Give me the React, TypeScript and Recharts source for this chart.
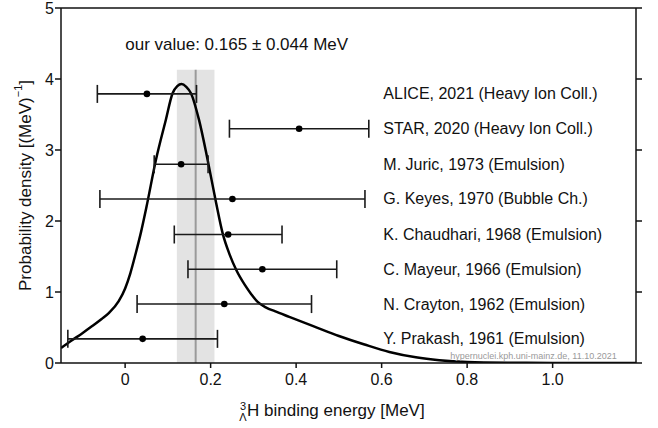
import React from 'react';
import {
  ComposedChart, Line, Scatter, XAxis, YAxis, ErrorBar, ReferenceArea, ReferenceLine,
} from 'recharts';

// Probability density curve (x in MeV, y in 1/MeV)
const curveX = [-0.15, -0.127, -0.1, -0.077, -0.055, -0.037, -0.015, 0.0, 0.012, 0.025, 0.037, 0.05, 0.072, 0.095, 0.111, 0.122, 0.132, 0.143, 0.154, 0.173, 0.193, 0.213, 0.228, 0.245, 0.26, 0.28, 0.295, 0.31, 0.33, 0.35, 0.384, 0.44, 0.5, 0.56, 0.618, 0.68, 0.735, 0.8, 0.9, 1.0, 1.195];
const curveY = [0.21, 0.31, 0.42, 0.52, 0.62, 0.71, 0.87, 1.05, 1.26, 1.55, 1.84, 2.2, 2.86, 3.42, 3.8, 3.9, 3.93, 3.89, 3.8, 3.42, 2.86, 2.25, 1.83, 1.52, 1.31, 1.1, 0.97, 0.86, 0.78, 0.73, 0.65, 0.52, 0.38, 0.26, 0.155, 0.08, 0.04, 0.015, 0.004, 0.001, 0];

// Measurements
const names = [
  'ALICE, 2021 (Heavy Ion Coll.)',
  'STAR, 2020 (Heavy Ion Coll.)',
  'M. Juric, 1973 (Emulsion)',
  'G. Keyes, 1970 (Bubble Ch.)',
  'K. Chaudhari, 1968 (Emulsion)',
  'C. Mayeur, 1966 (Emulsion)',
  'N. Crayton, 1962 (Emulsion)',
  'Y. Prakash, 1961 (Emulsion)',
];
const values = [0.051, 0.407, 0.131, 0.251, 0.241, 0.321, 0.232, 0.041];
const errors = [0.116, 0.163, 0.063, 0.31, 0.126, 0.174, 0.204, 0.175];
const rows = [3.79, 3.3, 2.8, 2.31, 1.81, 1.32, 0.83, 0.34];

const ourValue = 0.165;
const ourError = 0.044;
const bandTop = 4.13;

const xTicks = [0, 0.2, 0.4, 0.6, 0.8, 1.0];
const yTicks = [0, 1, 2, 3, 4, 5];
const xDomain = [-0.15, 1.195];
const yDomain = [0, 5];

const LABEL_X = 0.604;
const ANNOT_X = 0.261;
const ANNOT_Y = 4.48;
const WM_X = 1.15;
const WM_Y = 0.095;

const curveData = curveX.map((x, i) => ({ x, y: curveY[i] }));
const pointData = values.map((x, i) => ({ x, y: rows[i], err: errors[i] }));
const labelData = names.map((name, i) => ({ x: LABEL_X, y: rows[i], name }));
const annotData = [{ x: ANNOT_X, y: ANNOT_Y, name: `our value: ${ourValue} ± ${ourError} MeV` }];
const wmData = [{ x: WM_X, y: WM_Y, name: 'hypernuclei.kph.uni-mainz.de, 11.10.2021' }];

const FONT = '"Liberation Sans", Arial, sans-serif';

const fmtX = (v: number) => (v === 0 ? '0' : v.toFixed(1));

function XLabel(props: any) {
  const vb = props.viewBox || {};
  const x0 = (vb.x ?? 61) + 179;
  const base = (vb.y ?? 363) + 53;
  return (
    <g fontFamily={FONT} fill="#111">
      <text x={x0 + 3} y={base - 6} fontSize={11} textAnchor="middle">3</text>
      <text x={x0 + 3} y={base + 5} fontSize={11} textAnchor="middle">Λ</text>
      <text x={x0 + 7} y={base} fontSize={17}>H binding energy [MeV]</text>
    </g>
  );
}

function YLabel(props: any) {
  const vb = props.viewBox || {};
  const cy = (vb.y ?? 8) + (vb.height ?? 355) / 2;
  const cx = 25;
  return (
    <text x={cx} y={cy} transform={`rotate(-90 ${cx} ${cy})`} textAnchor="middle" dominantBaseline="central" fontFamily={FONT} fontSize={17} fill="#111">
      Probability density [(MeV)<tspan dy={-7} fontSize={11}>−1</tspan><tspan dy={7}>]</tspan>
    </text>
  );
}

export default function App() {
  const tickStyle = { fontFamily: FONT, fontSize: 16, fill: '#111' };
  return (
    <div style={{ position: 'absolute', left: 0, top: 0, width: 658, height: 428, background: '#fff' }}>
      <ComposedChart width={658} height={428} margin={{ top: 0, right: 0, bottom: 0, left: 0 }}>
        <XAxis
          type="number" dataKey="x" domain={xDomain} ticks={xTicks} tickFormatter={fmtX}
          allowDataOverflow height={65} tickSize={5} tickMargin={6}
          stroke="#111" strokeWidth={1.5} tick={tickStyle} interval={0}
          label={<XLabel />}
        />
        <XAxis
          xAxisId="top" orientation="top" type="number" domain={xDomain} ticks={xTicks}
          allowDataOverflow height={8} tickSize={6} tickFormatter={() => ''}
          stroke="#111" strokeWidth={1.5} interval={0}
        />
        <YAxis
          type="number" domain={yDomain} ticks={yTicks} allowDataOverflow width={61}
          tickSize={6} tickMargin={1} stroke="#111" strokeWidth={1.5} tick={tickStyle} interval={0}
          label={<YLabel />}
        />
        <YAxis
          yAxisId="right" orientation="right" type="number" domain={yDomain} ticks={yTicks}
          allowDataOverflow width={22} tickSize={6} tickFormatter={() => ''}
          stroke="#111" strokeWidth={1.5} interval={0}
        />
        <ReferenceArea
          x1={ourValue - ourError} x2={ourValue + ourError} y1={0} y2={bandTop}
          fill="#e3e3e3" fillOpacity={1} stroke="none"
        />
        <ReferenceLine
          segment={[{ x: ourValue, y: 0 }, { x: ourValue, y: bandTop }]}
          stroke="#9a9a9a" strokeWidth={2}
        />
        <Line
          data={curveData} dataKey="y" type="monotone" stroke="#000" strokeWidth={2.5}
          dot={false} activeDot={false} isAnimationActive={false}
        />
        <Scatter
          data={pointData} dataKey="y" isAnimationActive={false}
          shape={(p: any) => <circle cx={p.cx} cy={p.cy} r={3.3} fill="#000" />}
        >
          <ErrorBar dataKey="err" direction="x" width={9} stroke="#1a1a1a" strokeWidth={1.6} />
        </Scatter>
        <Scatter
          data={labelData} dataKey="y" isAnimationActive={false}
          shape={(p: any) => (
            <text x={p.cx} y={p.cy} dominantBaseline="central" fontFamily={FONT} fontSize={16} fill="#111">
              {p.payload.name}
            </text>
          )}
        />
        <Scatter
          data={annotData} dataKey="y" isAnimationActive={false}
          shape={(p: any) => (
            <text x={p.cx} y={p.cy} textAnchor="middle" dominantBaseline="central" fontFamily={FONT} fontSize={17} fill="#111">
              {p.payload.name}
            </text>
          )}
        />
        <Scatter
          data={wmData} dataKey="y" isAnimationActive={false}
          shape={(p: any) => (
            <text x={p.cx} y={p.cy} textAnchor="end" dominantBaseline="central" fontFamily={FONT} fontSize={9} fill="#9a9a9a">
              {p.payload.name}
            </text>
          )}
        />
      </ComposedChart>
    </div>
  );
}
